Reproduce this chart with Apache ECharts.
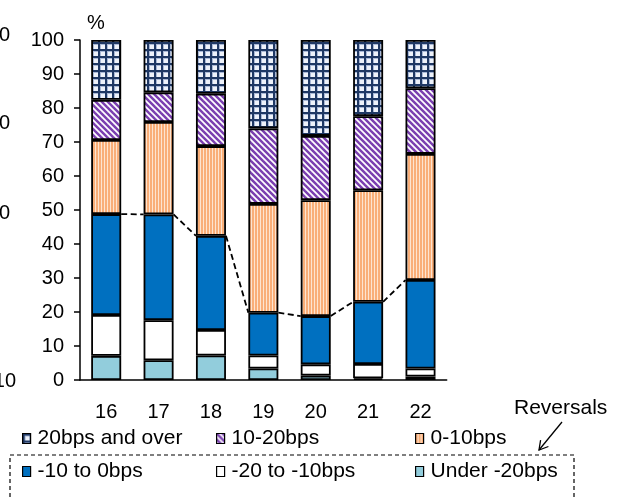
<!DOCTYPE html>
<html><head><meta charset="utf-8">
<script src="https://cdn.jsdelivr.net/npm/echarts@6/dist/echarts.min.js"></script>
<style>html,body{margin:0;padding:0;background:#fff}#c{width:628px;height:497px}</style>
</head><body><div id="c"></div>
<script>
// ---- data ----
const categories = ['16','17','18','19','20','21','22'];
const under20   = [7.1, 5.8, 7.2, 3.4, 1.3, 0.5, 1.0];
const m20to10   = [12.0, 11.8, 7.5, 3.8, 3.3, 4.2, 2.4];
const m10to0    = [29.7, 31.1, 27.7, 12.6, 14.2, 18.3, 26.0];
const p0to10    = [21.8, 27.2, 26.4, 32.0, 34.1, 32.8, 37.1];
const p10to20   = [11.8, 8.7, 15.4, 22.2, 18.9, 21.8, 19.3];
const p20over   = [17.6, 15.4, 15.8, 26.0, 28.2, 22.4, 14.2];
const seriesNames = ['20bps and over','10-20bps','0-10bps','-10 to 0bps','-20 to -10bps','Under -20bps'];
const leftCutLabels = ['0','0','0','10'];

// ---- patterns ----
function mk(w,h,draw){const c=document.createElement('canvas');c.width=w;c.height=h;draw(c.getContext('2d'),w,h);return c;}
const gridPat = mk(7,7,(g)=>{g.fillStyle='#eef2fa';g.fillRect(0,0,7,7);
  g.fillStyle='#a9b8d6';g.fillRect(0,0,7,3);g.fillRect(0,0,3,7);
  g.fillStyle='#1f3864';g.fillRect(0,0,7,2);g.fillRect(0,0,2,7);});
const diagPat = mk(6,6,(g)=>{g.fillStyle='#ffffff';g.fillRect(0,0,6,6);g.strokeStyle='#7a3fb0';g.lineWidth=2.5;
  for(let k=-1;k<=1;k++){g.beginPath();g.moveTo(-1,-1+6*k);g.lineTo(7,7+6*k);g.stroke();}});
const vertPat = mk(3,4,(g)=>{g.fillStyle='#f9ae78';g.fillRect(0,0,3,4);g.fillStyle='#fde4d0';g.fillRect(2,0,1,4);});

const BAR_W = 30;
const FONT = "'Liberation Sans', Arial, sans-serif";
const border = {borderColor:'#000', borderWidth:1.8};

function bar(name, data, color){
  return {name, type:'bar', stack:'s', data, barWidth:BAR_W,
    itemStyle:Object.assign({color}, border), emphasis:{disabled:true}};
}

const reversalTops = categories.map((c,i)=>under20[i]+m20to10[i]+m10to0[i]);
const lineData = categories.slice(0,-1).map((c,i)=>[i, reversalTops[i], i+1, reversalTops[i+1]]);

const legendPos = [[22,428],[216,428],[415,428],[22,461],[216,461],[415,461]];

const chart = echarts.init(document.getElementById('c'), null, {renderer:'canvas'});
chart.setOption({
  animation:false,
  textStyle:{fontFamily:FONT},
  grid:{left:80, right:181.3, top:40, bottom:117},
  xAxis:{type:'category', data:categories,
    axisLine:{lineStyle:{color:'#000', width:1.5}},
    axisTick:{length:5, lineStyle:{color:'#000', width:1.5}},
    axisLabel:{color:'#000', fontSize:20, margin:22, fontFamily:FONT}},
  yAxis:{type:'value', min:0, max:100, interval:10,
    axisLine:{show:true, lineStyle:{color:'#000', width:1.5}},
    axisTick:{show:true, length:6, lineStyle:{color:'#000', width:1.5}},
    splitLine:{show:false},
    axisLabel:{color:'#000', fontSize:20, margin:16, fontFamily:FONT}},
  legend: seriesNames.map((n,i)=>({
    data:[n], left:legendPos[i][0], top:legendPos[i][1], padding:0,
    itemWidth:8, itemHeight:10, icon:'rect',
    itemStyle:{borderWidth:1.2, borderColor:'#000'},
    textStyle:{fontSize:21, color:'#000', fontFamily:FONT, padding:[0,0,0,2]}
  })),
  series:[
    bar('Under -20bps', under20, '#92cddc'),
    bar('-20 to -10bps', m20to10, '#ffffff'),
    bar('-10 to 0bps', m10to0, '#0070c0'),
    bar('0-10bps', p0to10, {image:vertPat, repeat:'repeat'}),
    bar('10-20bps', p10to20, {image:diagPat, repeat:'repeat'}),
    bar('20bps and over', p20over, {image:gridPat, repeat:'repeat'}),
    {type:'custom', z:10, silent:true, data:lineData, encode:{x:0,y:1},
      renderItem(params, api){
        const a = api.coord([api.value(0), api.value(1)]);
        const b = api.coord([api.value(2), api.value(3)]);
        const hw = BAR_W/2;
        return {type:'line', shape:{x1:a[0]+hw, y1:a[1], x2:b[0]-hw, y2:b[1]},
          style:{stroke:'#000', lineWidth:1.8, lineDash:[6,3.5]}};
      }}
  ],
  graphic:[
    {type:'text', left:87, top:13, style:{text:'%', fontSize:20, fill:'#000', fontFamily:FONT}},
    {type:'text', x:10, y:35, style:{text:leftCutLabels[0], fontSize:20, fill:'#000', fontFamily:FONT, align:'right', verticalAlign:'middle'}},
    {type:'text', x:10, y:123, style:{text:leftCutLabels[1], fontSize:20, fill:'#000', fontFamily:FONT, align:'right', verticalAlign:'middle'}},
    {type:'text', x:10, y:213, style:{text:leftCutLabels[2], fontSize:20, fill:'#000', fontFamily:FONT, align:'right', verticalAlign:'middle'}},
    {type:'text', x:16, y:381, style:{text:leftCutLabels[3], fontSize:20, fill:'#000', fontFamily:FONT, align:'right', verticalAlign:'middle'}},
    {type:'text', x:514, y:408, style:{text:'Reversals', fontSize:21, fill:'#000', fontFamily:FONT, verticalAlign:'middle'}},
    {type:'line', shape:{x1:562, y1:422, x2:539, y2:450}, style:{stroke:'#000', lineWidth:1.3}},
    {type:'polyline', shape:{points:[[548.4,446.5],[539,450],[540.6,440.1]]}, style:{stroke:'#000', lineWidth:1.3, fill:null}},
    {type:'rect', shape:{x:10, y:455, width:564, height:80}, style:{stroke:'#000', fill:null, lineWidth:1.2, lineDash:[4,3]}}
  ]
});
</script></body></html>
